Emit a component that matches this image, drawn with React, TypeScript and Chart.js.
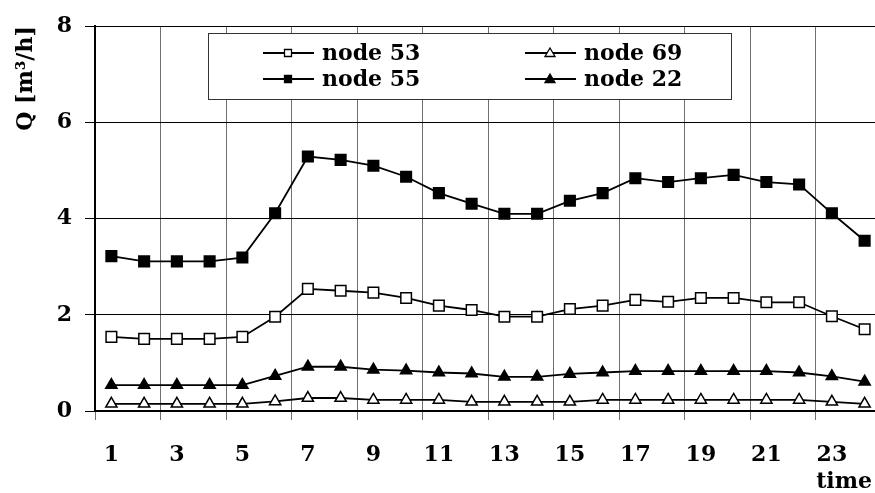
import React, { useEffect, useRef } from 'react';
import { Chart, registerables } from 'chart.js';

Chart.register(...registerables);

const hours: string[] = ['1','2','3','4','5','6','7','8','9','10','11','12','13','14','15','16','17','18','19','20','21','22','23','24'];
const node53: number[] = [1.54, 1.50, 1.50, 1.50, 1.54, 1.96, 2.54, 2.50, 2.46, 2.35, 2.19, 2.10, 1.96, 1.96, 2.12, 2.19, 2.31, 2.27, 2.35, 2.35, 2.26, 2.26, 1.97, 1.70];
const node69: number[] = [0.15, 0.15, 0.15, 0.15, 0.15, 0.20, 0.27, 0.27, 0.23, 0.23, 0.23, 0.19, 0.19, 0.19, 0.19, 0.23, 0.23, 0.23, 0.23, 0.23, 0.23, 0.23, 0.19, 0.15];
const node55: number[] = [3.22, 3.11, 3.11, 3.11, 3.19, 4.11, 5.29, 5.22, 5.10, 4.87, 4.53, 4.31, 4.10, 4.10, 4.37, 4.53, 4.84, 4.76, 4.84, 4.91, 4.76, 4.71, 4.11, 3.54];
const node22: number[] = [0.54, 0.54, 0.54, 0.54, 0.54, 0.73, 0.92, 0.92, 0.86, 0.84, 0.80, 0.78, 0.71, 0.71, 0.77, 0.80, 0.83, 0.83, 0.83, 0.83, 0.83, 0.80, 0.72, 0.61];
const seriesNames: string[] = ['node 53', 'node 69', 'node 55', 'node 22'];
const yTicks: number[] = [0, 2, 4, 6, 8];

const FONT = "'DejaVu Serif', 'Liberation Serif', serif";

const legendPlugin = {
  id: 'boxLegend',
  afterDraw(chart: any) {
    const ctx = chart.ctx as CanvasRenderingContext2D;
    ctx.save();
    ctx.fillStyle = '#fff';
    ctx.fillRect(208, 33, 524, 66);
    ctx.strokeStyle = '#333';
    ctx.lineWidth = 1;
    ctx.strokeRect(208.5, 33.5, 523, 66);
    const colX = [263, 525];
    chart.data.datasets.forEach((ds: any, i: number) => {
      const col = i % 2;
      const row = Math.floor(i / 2);
      const x0 = colX[col];
      const ly = 53 + row * 26;
      ctx.strokeStyle = '#000';
      ctx.lineWidth = 1.8;
      ctx.beginPath();
      ctx.moveTo(x0, ly);
      ctx.lineTo(x0 + 51, ly);
      ctx.stroke();
      const cx = x0 + 25;
      ctx.fillStyle = ds.pointBackgroundColor;
      ctx.lineWidth = 1.3;
      ctx.beginPath();
      if (ds.pointStyle === 'rect') {
        ctx.rect(cx - 3.5, ly - 3.5, 7, 7);
      } else {
        ctx.moveTo(cx, ly - 5);
        ctx.lineTo(cx + 5, ly + 3.5);
        ctx.lineTo(cx - 5, ly + 3.5);
        ctx.closePath();
      }
      ctx.fill();
      ctx.stroke();
      ctx.fillStyle = '#000';
      ctx.font = `bold 22px ${FONT}`;
      ctx.textBaseline = 'alphabetic';
      ctx.textAlign = 'left';
      ctx.fillText(ds.label, x0 + 59, 60 + row * 26);
    });
    ctx.font = `bold 22px ${FONT}`;
    ctx.textAlign = 'right';
    ctx.textBaseline = 'alphabetic';
    ctx.fillStyle = '#000';
    ctx.fillText('time', 872, 488);
    ctx.restore();
  },
};

export default function App() {
  const ref = useRef<HTMLCanvasElement | null>(null);
  useEffect(() => {
    if (!ref.current) return;
    const mk = (label: string, data: number[], style: string, fill: string) => ({
      label,
      data,
      borderColor: '#000',
      borderWidth: 1.8,
      pointStyle: style,
      pointRadius: style === 'rect' ? 7.5 : 6.5,
      pointBackgroundColor: fill,
      pointBorderColor: '#000',
      pointBorderWidth: 1.5,
      tension: 0,
      fill: false,
    });
    const chart = new Chart(ref.current, {
      type: 'line',
      data: {
        labels: hours,
        datasets: [
          mk(seriesNames[0], node53, 'rect', '#fff'),
          mk(seriesNames[1], node69, 'triangle', '#fff'),
          mk(seriesNames[2], node55, 'rect', '#000'),
          mk(seriesNames[3], node22, 'triangle', '#000'),
        ],
      },
      options: {
        responsive: false,
        animation: false,
        devicePixelRatio: 1,
        layout: { padding: { top: 18, right: 8, left: 0, bottom: 0 } },
        plugins: {
          legend: { display: false },
          tooltip: { enabled: false },
        },
        scales: {
          x: {
            type: 'category',
            offset: true,
            grid: {
              offset: true,
              color: (c: any) => (c.index % 2 === 0 ? '#707070' : 'rgba(0,0,0,0)'),
              lineWidth: 1,
              tickLength: 9,
            },
            border: { display: true, color: '#000', width: 2 },
            ticks: {
              autoSkip: false,
              maxRotation: 0,
              minRotation: 0,
              padding: 22,
              color: '#000',
              font: { family: FONT, weight: 'bold', size: 22 },
              callback: (_v: any, i: number) => (i % 2 === 0 ? hours[i] : ''),
            },
            afterFit: (s: any) => { s.height = 82; },
          },
          y: {
            min: yTicks[0],
            max: yTicks[yTicks.length - 1],
            afterBuildTicks: (s: any) => { s.ticks = yTicks.map((v) => ({ value: v })); },
            grid: { color: '#000', lineWidth: 1, tickLength: 10 },
            border: { display: true, color: '#000', width: 2 },
            ticks: {
              padding: 13,
              color: '#000',
              font: { family: FONT, weight: 'bold', size: 22 },
            },
            title: {
              display: true,
              text: 'Q [m³/h]',
              align: 'end',
              color: '#000',
              padding: { top: 13, bottom: 0 },
              font: { family: FONT, weight: 'bold', size: 22 },
            },
            afterFit: (s: any) => { s.width = 95; },
          },
        },
      },
      plugins: [legendPlugin],
    } as any);
    return () => chart.destroy();
  }, []);
  return (
    <div style={{ position: 'absolute', left: 0, top: 0, width: 875, height: 493, overflow: 'hidden', background: '#fff' }}>
      <canvas ref={ref} width={890} height={493} style={{ display: 'block' }} />
    </div>
  );
}
